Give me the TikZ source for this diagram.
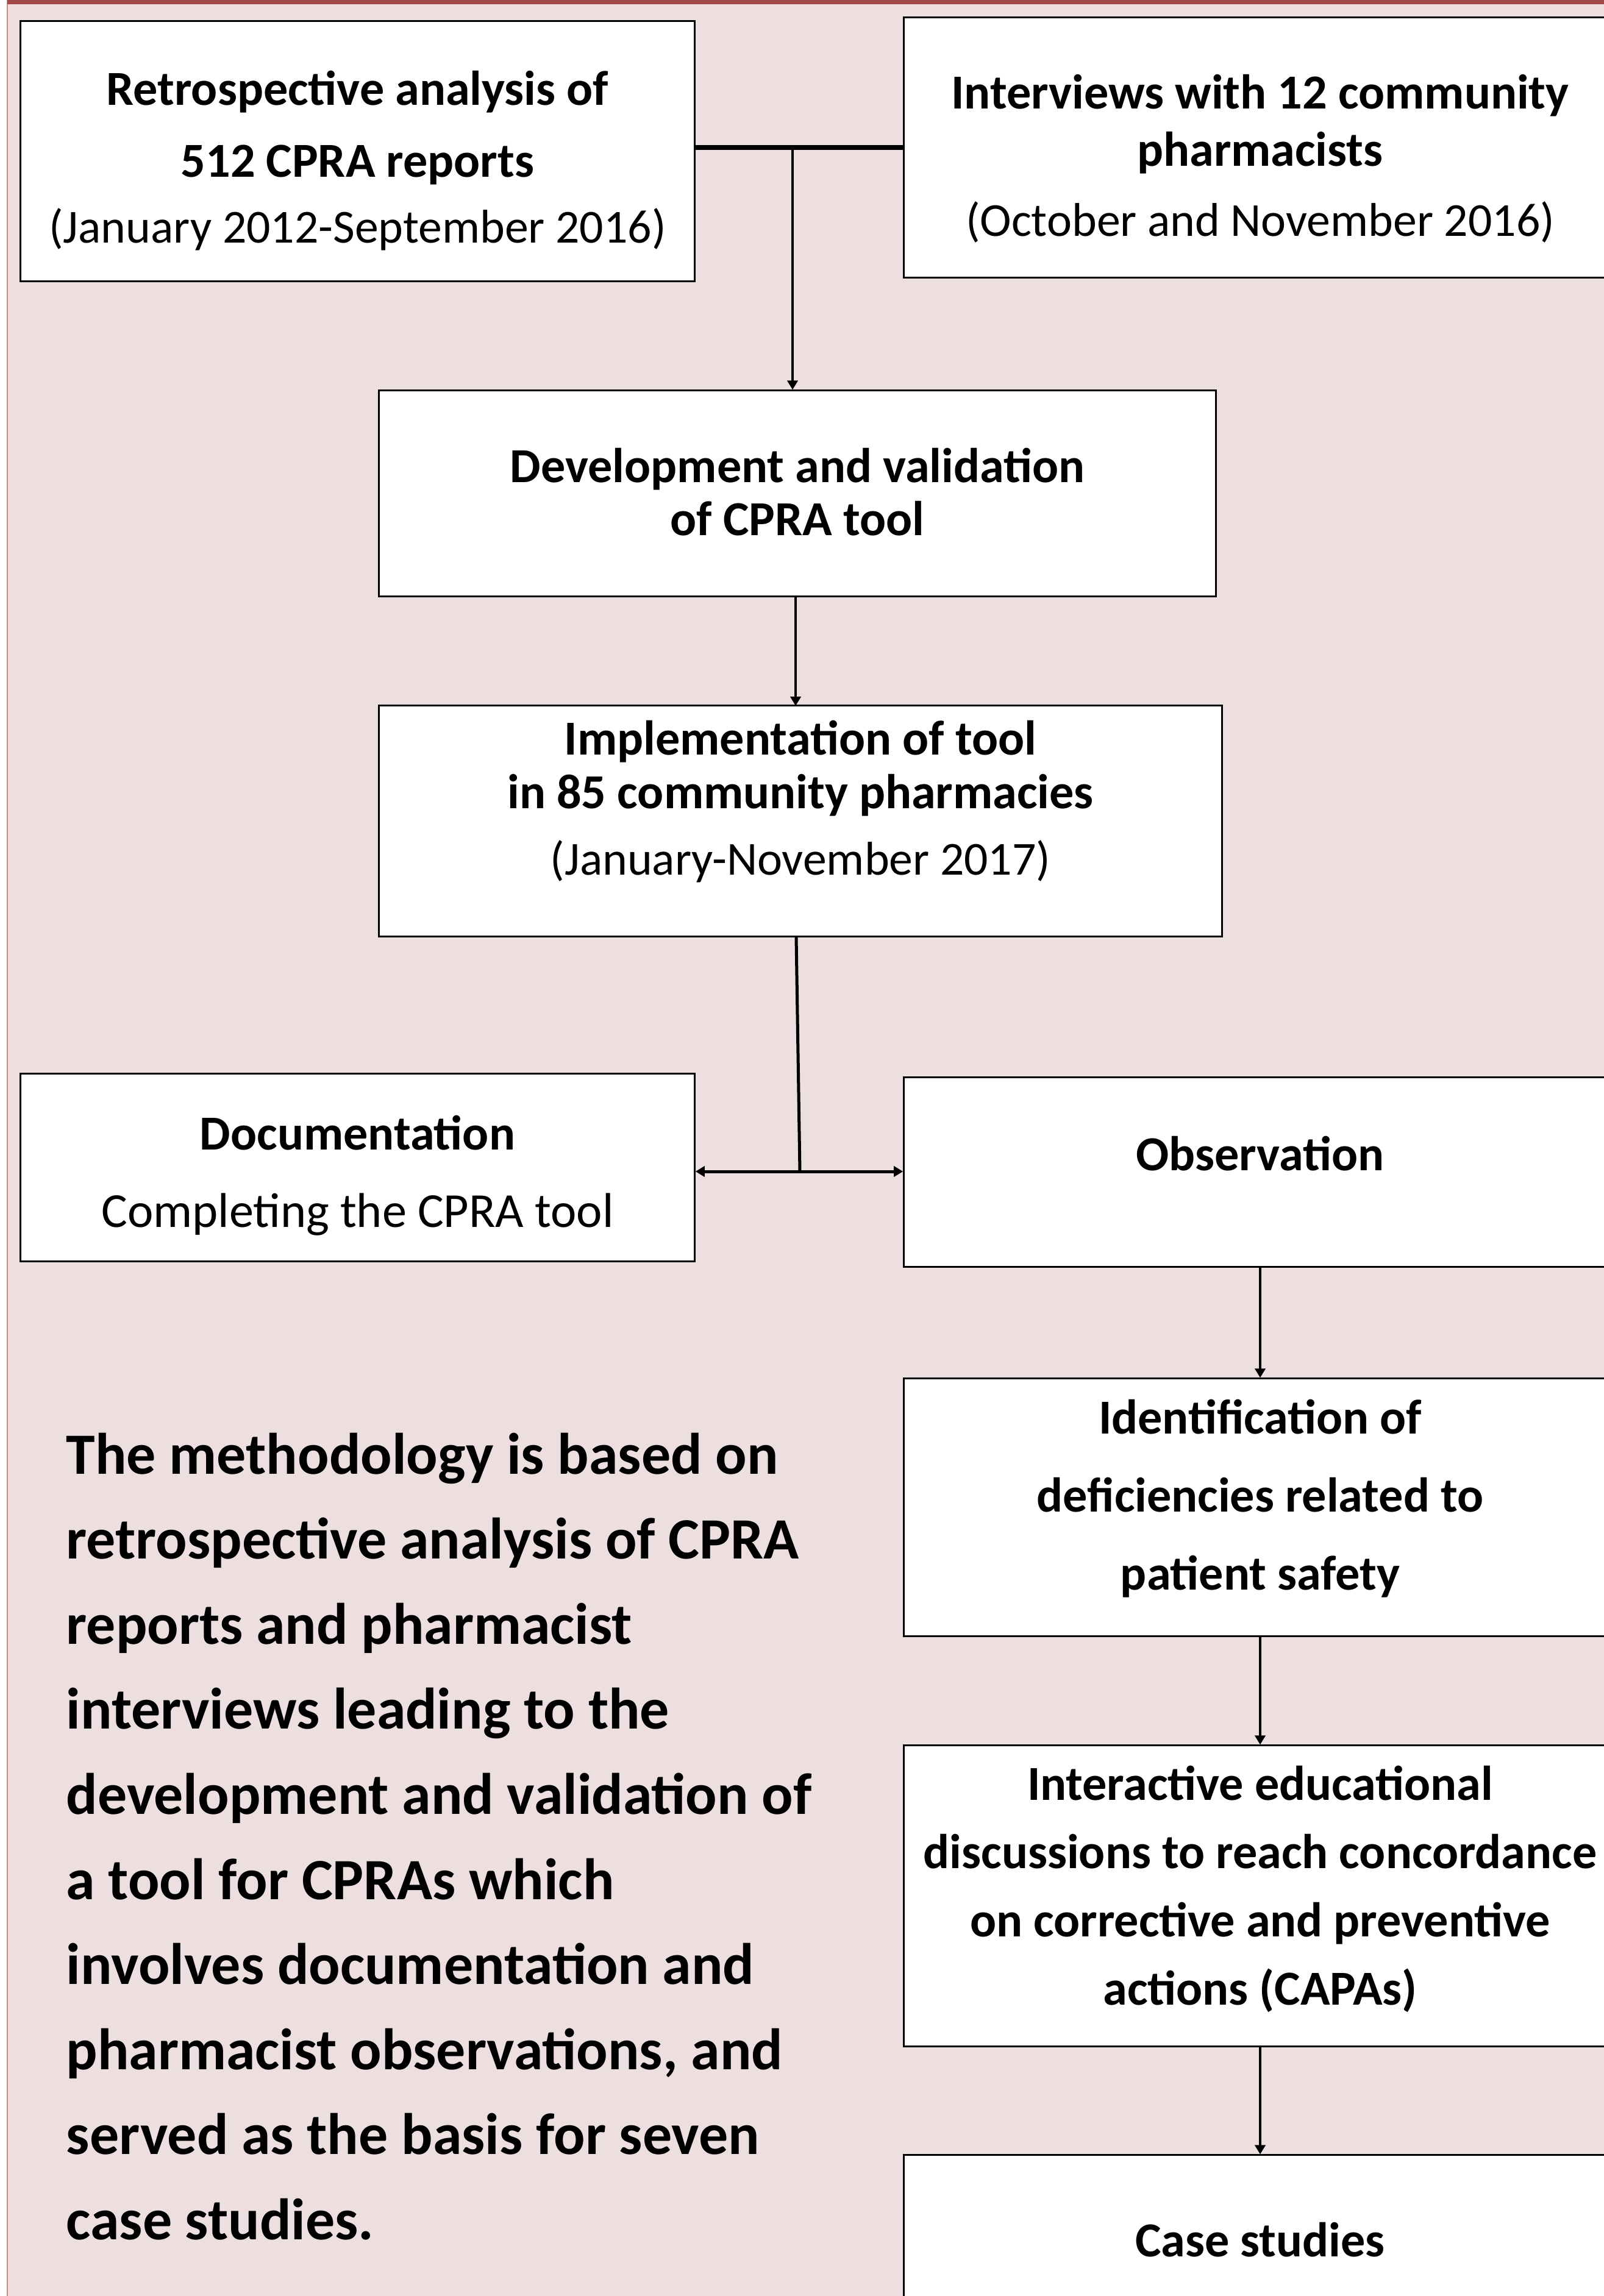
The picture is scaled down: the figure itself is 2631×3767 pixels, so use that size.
\documentclass[tikz,border=0pt]{standalone}
\usepackage{fontspec}
\setmainfont{Carlito}
\usetikzlibrary{positioning,arrows.meta}
\definecolor{panelPink}{RGB}{237,223,223}
\definecolor{bandRed}{RGB}{163,74,74}
\definecolor{edgeRed}{RGB}{200,140,140}
\tikzstyle{stepbox} = [draw=black, fill=white, line width=0.03cm, align=center, inner sep=0pt]
\tikzstyle{flowArrow} = [line width=0.04cm, -{Triangle[length=0.15cm, width=0.17cm]}]
\tikzstyle{joinLine} = [line width=0.08cm]
\tikzstyle{forkLine} = [line width=0.05cm]
\newcommand{\boxFont}[1]{\fontsize{22.8}{#1}\selectfont}
\newcommand{\dateFont}{\mdseries\fontsize{22.1}{22.1}\selectfont}
\newcommand{\topStrut}[1]{\rule{0pt}{#1}}
\newcommand{\botStrut}[1]{\rule[-#1]{0pt}{0pt}}

\begin{document}
\begin{tikzpicture}[x=0.01cm, y=-0.01cm]
  \useasboundingbox (0,0) rectangle (2631,3767);
  \clip (0,0) rectangle (2631,3767);
  % panel
  \fill[white] (0,0) rectangle (2631,3767);
  \fill[panelPink] (12,0) rectangle (2631,3767);
  \draw[edgeRed, line width=0.02cm] (12,0) -- (12,3767);
  \fill[bandRed] (12,0) rectangle (2631,7);

  % left column
  \node[stepbox, minimum width=11.05cm, minimum height=4.26cm, font=\boxFont{30.7}\bfseries] (retro) at (586.5,248)
    {\topStrut{1.05cm}Retrospective analysis of\\[2.6pt]512 CPRA reports\\{\dateFont (January 2012-September 2016)}\botStrut{0.30cm}};
  \node[stepbox, minimum width=11.05cm, minimum height=3.07cm, font=\boxFont{36.1}\bfseries] (docu) at (586.5,1915.5)
    {\topStrut{0.98cm}Documentation\\{\mdseries Completing the CPRA tool}\botStrut{0.30cm}};

  % middle column
  \node[stepbox, minimum width=13.72cm, minimum height=3.37cm, font=\boxFont{25}\bfseries] (devel) at (1308,809.5)
    {\topStrut{0.81cm}Development and validation\\of CPRA tool\botStrut{0.30cm}};
  \node[stepbox, minimum width=13.82cm, minimum height=3.78cm, font=\boxFont{24.75}\bfseries] (impl) at (1313,1347)
    {\topStrut{0.80cm}Implementation of tool\\in 85 community pharmacies\\[6.25pt]{\dateFont (January-November 2017)}\botStrut{1.00cm}};

  % right column
  \node[stepbox, minimum width=11.68cm, minimum height=4.26cm, font=\boxFont{27}\bfseries] (interv) at (2067,242)
    {\topStrut{1.12cm}Interviews with 12 community\\pharmacists\\[5.7pt]{\dateFont (October and November 2016)}\botStrut{0.30cm}};
  \node[stepbox, minimum width=11.68cm, minimum height=3.10cm, font=\boxFont{25}\bfseries] (obser) at (2067,1923)
    {\topStrut{0.80cm}Observation\botStrut{0.86cm}};
  \node[stepbox, minimum width=11.68cm, minimum height=4.22cm, font=\boxFont{36.4}\bfseries] (ident) at (2067,2473)
    {\topStrut{0.84cm}Identification of\\deficiencies related to\\patient safety\botStrut{0.70cm}};
  \node[stepbox, minimum width=11.68cm, minimum height=4.93cm, font=\boxFont{31.9}\bfseries] (inter) at (2067,3110.5)
    {\topStrut{0.82cm}Interactive educational\\discussions to reach concordance\\on corrective and preventive\\actions (CAPAs)\botStrut{0.60cm}};
  \node[stepbox, minimum width=11.68cm, minimum height=2.94cm, font=\boxFont{25}\bfseries] (cases) at (2067,3683)
    {\topStrut{0.78cm}Case studies\botStrut{0.40cm}};

  % summary text
  \node[anchor=north west, align=left, inner sep=0pt, font=\fontsize{27.3}{39.7}\selectfont\bfseries] (summary) at (108,2350)
    {The methodology is based on\\
     retrospective analysis of CPRA\\
     reports and pharmacist\\
     interviews leading to the\\
     development and validation of\\
     a tool for CPRAs which\\
     involves documentation and\\
     pharmacist observations, and\\
     served as the basis for seven\\
     case studies.};

  % connectors
  \coordinate (split) at (1300,242);
  \coordinate (fork) at (1312,1922);
  \draw[joinLine] (retro.east |- interv.west) -- (interv.west);
  \draw[flowArrow] (split) -- (split |- devel.north);
  \draw[flowArrow] (devel.south -| split) ++(5,0) -- (1305,1158);
  \draw[forkLine] (impl.south -| 1306,0) -- (fork);
  \draw[forkLine, -{Triangle[length=0.15cm, width=0.17cm]}] (fork) -- (fork -| docu.east);
  \draw[forkLine, -{Triangle[length=0.15cm, width=0.17cm]}] (fork) -- (fork -| obser.west);
  \draw[flowArrow] (obser) -- (ident);
  \draw[flowArrow] (ident) -- (inter);
  \draw[flowArrow] (inter) -- (cases);
\end{tikzpicture}
\end{document}
